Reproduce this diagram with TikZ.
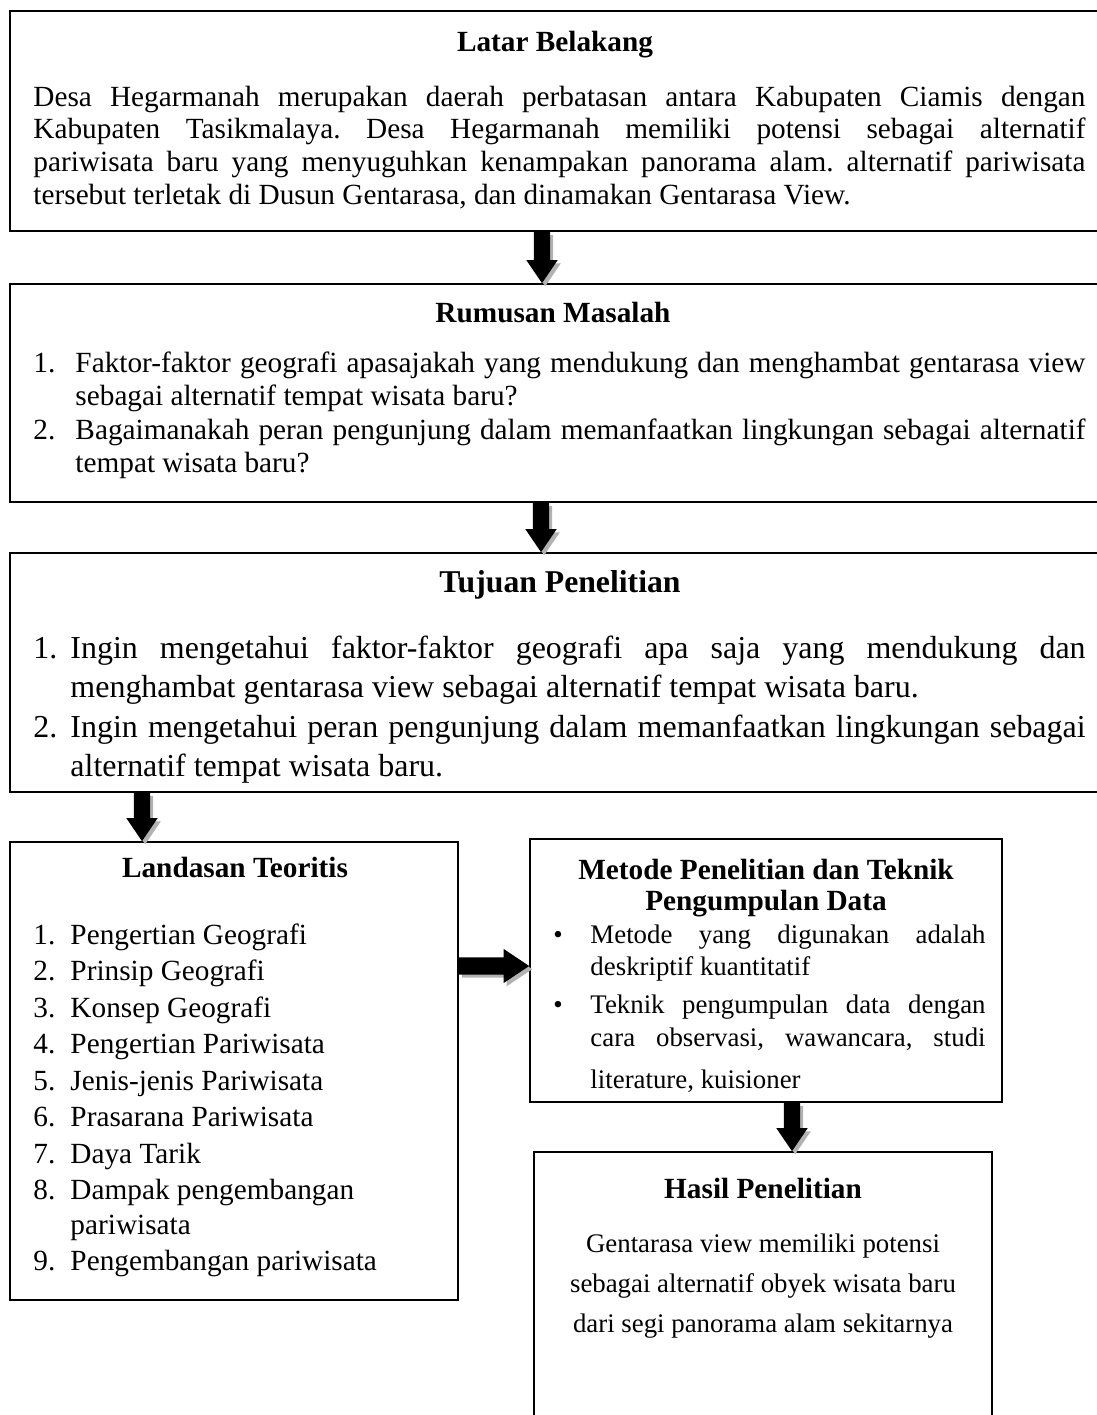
\documentclass[tikz,border=0pt]{standalone}
\usepackage{fontspec}
\setmainfont{Liberation Serif}
\frenchspacing
\usetikzlibrary{calc,fit}
\newcommand\dnarrow[3]{%
  \path[#1] let \p1=(#2), \p2=(#3) in
  (\x1-3.3pt,\y1) -- (\x1-3.3pt,\y2+9.4pt) -- (\x1-6.4pt,\y2+9.4pt) -- (\x1,\y2)
  -- (\x1+6.4pt,\y2+9.4pt) -- (\x1+3.3pt,\y2+9.4pt) -- (\x1+3.3pt,\y1) -- cycle;}
\newcommand\rtarrow[3]{%
  \path[#1] let \p1=(#2), \p2=(#3) in
  (\x1,\y1+3.5pt) -- (\x2-10.5pt,\y1+3.5pt) -- (\x2-10.5pt,\y1+7pt) -- (\x2,\y1)
  -- (\x2-10.5pt,\y1-7pt) -- (\x2-10.5pt,\y1-3.5pt) -- (\x1,\y1-3.5pt) -- cycle;}
\begin{document}
\begin{tikzpicture}[x=0.41pt,y=-0.41pt,
  box/.style={draw, line width=0.7pt, inner sep=0pt},
  ttl/.style={anchor=base, inner sep=0pt, font=\fontsize{12}{14}\selectfont\bfseries},
  para/.style={anchor=base west, inner sep=0pt, align=justify},
  num/.style={anchor=base west, inner sep=0pt},
  shad/.style={fill=black!30, transform canvas={shift={(1.3pt,-1.3pt)}}},
  blk/.style={fill=black}]
\useasboundingbox (0,0) rectangle (1096,1415);

% boxes
\node[box, fit={(10,11) (1120,231)}] (b1) {};
\node[box, fit={(10,284) (1120,502)}] (b2) {};
\node[box, fit={(10,553) (1120,792)}] (b3) {};
\node[box, fit={(10,842) (458,1300)}] (b4) {};
\node[box, fit={(530,839) (1002,1102)}] (b5) {};
\node[box, fit={(534,1152) (992,1440)}] (b6) {};

% box 1
\node[ttl] (t1) at (555,51) {Latar Belakang};
\node[para, text width=431.3pt, font=\fontsize{12}{13.5}\selectfont] (p1) at (33,106)
 {Desa Hegarmanah merupakan daerah perbatasan antara Kabupaten Ciamis dengan\linebreak
  Kabupaten Tasikmalaya. Desa Hegarmanah memiliki potensi sebagai alternatif\linebreak
  pariwisata baru yang menyuguhkan kenampakan panorama alam. alternatif pariwisata\linebreak
  tersebut terletak di Dusun Gentarasa, dan dinamakan Gentarasa View.};

% box 2
\node[ttl] (t2) at (553,322) {Rumusan Masalah};
\begin{scope}[every node/.style={font=\fontsize{12}{13.7}\selectfont}]
\node[num] (n21) at (33,372) {1.};
\node[para, text width=414.1pt] (p21) at (75,372)
 {Faktor-faktor geografi apasajakah yang mendukung dan menghambat gentarasa view\linebreak
  sebagai alternatif tempat wisata baru?};
\node[num] (n22) at (33,439) {2.};
\node[para, text width=414.1pt] (p22) at (75,439)
 {Bagaimanakah peran pengunjung dalam memanfaatkan lingkungan sebagai alternatif\linebreak
  tempat wisata baru?};
\end{scope}

% box 3
\node[ttl, font=\fontsize{13}{16}\selectfont\bfseries] (t3) at (560,592) {Tujuan Penelitian};
\begin{scope}[every node/.style={font=\fontsize{13.1}{16.1}\selectfont}]
\node[num] (n31) at (33,658) {1.};
\node[para, text width=416.2pt] (p31) at (70,658)
 {Ingin mengetahui faktor-faktor geografi apa saja yang mendukung dan\linebreak
  menghambat gentarasa view sebagai alternatif tempat wisata baru.};
\node[num] (n32) at (33,737) {2.};
\node[para, text width=416.2pt] (p32) at (70,737)
 {Ingin mengetahui peran pengunjung dalam memanfaatkan lingkungan sebagai\linebreak
  alternatif tempat wisata baru.};
\end{scope}

% box 4
\node[ttl] (t4) at (235,877) {Landasan Teoritis};
\begin{scope}[every node/.style={font=\fontsize{12}{14}\selectfont}]
\node[num] (n41) at (33,944) {1.};   \node[num] (l41) at (70,944) {Pengertian Geografi};
\node[num] (n42) at (33,980.5) {2.}; \node[num] (l42) at (70,980.5) {Prinsip Geografi};
\node[num] (n43) at (33,1017) {3.};  \node[num] (l43) at (70,1017) {Konsep Geografi};
\node[num] (n44) at (33,1053.5) {4.};\node[num] (l44) at (70,1053.5) {Pengertian Pariwisata};
\node[num] (n45) at (33,1090) {5.};  \node[num] (l45) at (70,1090) {Jenis-jenis Pariwisata};
\node[num] (n46) at (33,1126.5) {6.};\node[num] (l46) at (70,1126.5) {Prasarana Pariwisata};
\node[num] (n47) at (33,1163) {7.};  \node[num] (l47) at (70,1163) {Daya Tarik};
\node[num] (n48) at (33,1199.5) {8.};\node[num] (l48) at (70,1199.5) {Dampak pengembangan};
\node[num] (l48b) at (70,1234) {pariwisata};
\node[num] (n49) at (33,1270) {9.};  \node[num] (l49) at (70,1270) {Pengembangan pariwisata};
\end{scope}

% box 5
\node[ttl] (t5a) at (766,879) {Metode Penelitian dan Teknik};
\node[ttl] (t5b) at (766,910) {Pengumpulan Data};
\begin{scope}
\clip (530,839) rectangle (1002,1091);
\begin{scope}[every node/.style={font=\fontsize{11}{13.3}\selectfont}]
\node[num] (n51) at (553,943) {•};
\node[para, text width=162pt] (p51) at (590,943)
 {Metode yang digunakan adalah\linebreak deskriptif kuantitatif};
\node[num] (n52) at (553,1013) {•};
\node[num] (p52) at (590,1013) {\makebox[162pt][s]{Teknik pengumpulan data dengan}};
\node[num] (p52b) at (590,1046) {\makebox[162pt][s]{cara observasi, wawancara, studi}};
\node[num] (p53) at (590,1088) {literature, kuisioner};
\end{scope}
\end{scope}

% box 6
\node[ttl] (t6) at (763,1198) {Hasil Penelitian};
\begin{scope}[every node/.style={anchor=base, inner sep=0pt, font=\fontsize{11}{14}\selectfont}]
\node (h1) at (763,1252) {Gentarasa view memiliki potensi};
\node (h2) at (763,1292) {sebagai alternatif obyek wisata baru};
\node (h3) at (763,1332) {dari segi panorama alam sekitarnya};
\end{scope}

% arrows
\dnarrow{shad}{542,0 |- b1.south}{542,0 |- b2.north}
\dnarrow{blk}{542,0 |- b1.south}{542,0 |- b2.north}
\dnarrow{shad}{541,0 |- b2.south}{541,0 |- b3.north}
\dnarrow{blk}{541,0 |- b2.south}{541,0 |- b3.north}
\dnarrow{shad}{142,0 |- b3.south}{142,0 |- b4.north}
\dnarrow{blk}{142,0 |- b3.south}{142,0 |- b4.north}
\rtarrow{shad}{b4.east |- 0,966}{b5.west |- 0,966}
\rtarrow{blk}{b4.east |- 0,966}{b5.west |- 0,966}
\dnarrow{shad}{792,0 |- b5.south}{792,0 |- b6.north}
\dnarrow{blk}{792,0 |- b5.south}{792,0 |- b6.north}
\end{tikzpicture}
\end{document}
